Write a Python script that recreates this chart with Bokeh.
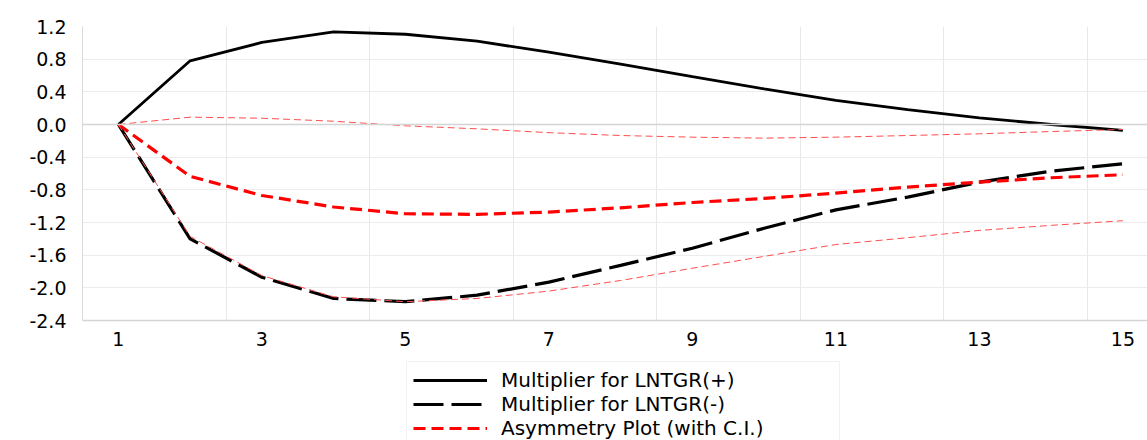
from bokeh.plotting import figure
from bokeh.layouts import column
from bokeh.models import FixedTicker, Legend, LegendItem, Span, NumeralTickFormatter
from bokeh.embed import file_html
from bokeh.resources import INLINE

# ---- data ----
horizon = list(range(1, 16))
mult_pos = [0.0, 0.78, 1.005, 1.135, 1.105, 1.02, 0.885, 0.74, 0.585, 0.436, 0.295, 0.183, 0.082, 0.0, -0.073]
mult_neg = [0.0, -1.40, -1.87, -2.13, -2.17, -2.09, -1.93, -1.725, -1.515, -1.27, -1.045, -0.889, -0.706, -0.571, -0.481]
asym = [0.0, -0.635, -0.869, -1.01, -1.093, -1.10, -1.073, -1.02, -0.955, -0.905, -0.84, -0.767, -0.706, -0.652, -0.615]
upper_ci = [0.0, 0.09, 0.077, 0.04, -0.016, -0.053, -0.10, -0.135, -0.155, -0.167, -0.155, -0.135, -0.114, -0.086, -0.061]
lower_ci = [0.0, -1.37, -1.85, -2.11, -2.17, -2.13, -2.04, -1.91, -1.76, -1.615, -1.47, -1.386, -1.297, -1.235, -1.178]

series_labels = ["Multiplier for LNTGR(+)", "Multiplier for LNTGR(-)", "Asymmetry Plot (with C.I.)"]

y_ticks = [-2.4, -2.0, -1.6, -1.2, -0.8, -0.4, 0.0, 0.4, 0.8, 1.2]
y_tick_labels = ["-2.4", "-2.0", "-1.6", "-1.2", "-0.8", "-0.4", "0.0", "0.4", "0.8", "1.2"]
x_ticks = [1, 3, 5, 7, 9, 11, 13, 15]
x_tick_labels = ["1", "3", "5", "7", "9", "11", "13", "15"]
x_grid_ticks = [2.5, 4.5, 6.5, 8.5, 10.5, 12.5, 14.5]

FONT = "DejaVu Sans"

# ---- main chart ----
p = figure(width=1147, height=355, x_range=(0.5, 15.343), y_range=(-2.4, 1.2),
           output_backend="svg", toolbar_location=None,
           min_border_left=82, min_border_right=0, min_border_top=26, min_border_bottom=35)
p.outline_line_color = None
p.background_fill_color = "white"
p.border_fill_color = "white"

p.xaxis.ticker = FixedTicker(ticks=x_ticks)
p.xaxis.major_label_overrides = {t: s for t, s in zip(x_ticks, x_tick_labels)}
p.xaxis.major_tick_line_color = None
p.xaxis.minor_tick_line_color = None
p.xaxis.axis_line_color = "#d4d4d4"
p.xaxis.axis_line_width = 1.5
p.xaxis.major_label_text_font = FONT
p.xaxis.major_label_text_font_size = "19px"
p.xaxis.major_label_text_color = "black"
p.xaxis.major_label_standoff = 5

p.yaxis.ticker = FixedTicker(ticks=y_ticks)
p.yaxis.formatter = NumeralTickFormatter(format="0.0")
p.yaxis.major_label_overrides = {t: s for t, s in zip(y_ticks, y_tick_labels)}
p.yaxis.major_tick_line_color = None
p.yaxis.minor_tick_line_color = None
p.yaxis.axis_line_color = "#d9d9d9"
p.yaxis.major_label_text_font = FONT
p.yaxis.major_label_text_font_size = "19px"
p.yaxis.major_label_text_color = "black"
p.yaxis.major_label_standoff = 10

p.xgrid.ticker = FixedTicker(ticks=x_grid_ticks)
p.xgrid.grid_line_color = "#e8e8e8"
p.xgrid.grid_line_width = 1
p.ygrid.grid_line_color = "#ececec"
p.ygrid.grid_line_width = 1
p.add_layout(Span(location=0, dimension="width", line_color="#d4d4d4", line_width=1.5))

STYLE_POS = dict(line_color="black", line_width=2.8)
STYLE_NEG = dict(line_color="black", line_width=3.2, line_dash="30 8")
STYLE_ASYM = dict(line_color="#ff0000", line_width=3.2, line_dash="12 6")
STYLE_CI = dict(line_color="#ff4d4d", line_width=1, line_dash="7 4")

p.line(horizon, mult_pos, **STYLE_POS)
p.line(horizon, mult_neg, **STYLE_NEG)
p.line(horizon, asym, **STYLE_ASYM)
p.line(horizon, upper_ci, **STYLE_CI)
p.line(horizon, lower_ci, **STYLE_CI)

# ---- legend strip below the chart (its lines lie outside its ranges; only the legend shows) ----
lg = figure(width=1147, height=85, x_range=(100, 101), y_range=(100, 101),
            output_backend="svg", toolbar_location=None,
            x_axis_type=None, y_axis_type=None, min_border=0)
lg.outline_line_color = None
lg.grid.visible = False
lr_pos = lg.line(horizon, mult_pos, **STYLE_POS)
lr_neg = lg.line(horizon, mult_neg, **STYLE_NEG)
lr_asym = lg.line(horizon, asym, **STYLE_ASYM)

legend = Legend(items=[LegendItem(label=series_labels[0], renderers=[lr_pos]),
                       LegendItem(label=series_labels[1], renderers=[lr_neg]),
                       LegendItem(label=series_labels[2], renderers=[lr_asym])],
                location=(324, -7), padding=6, spacing=0, margin=0,
                label_height=24, glyph_height=24, glyph_width=74, label_standoff=14,
                label_width=332, label_text_font=FONT, label_text_font_size="20px",
                label_text_color="black", border_line_color="#e3e3e3", border_line_width=1,
                background_fill_color="white", background_fill_alpha=1)
lg.add_layout(legend)

open("out.html", "w").write(file_html(column(p, lg, spacing=0), INLINE))
